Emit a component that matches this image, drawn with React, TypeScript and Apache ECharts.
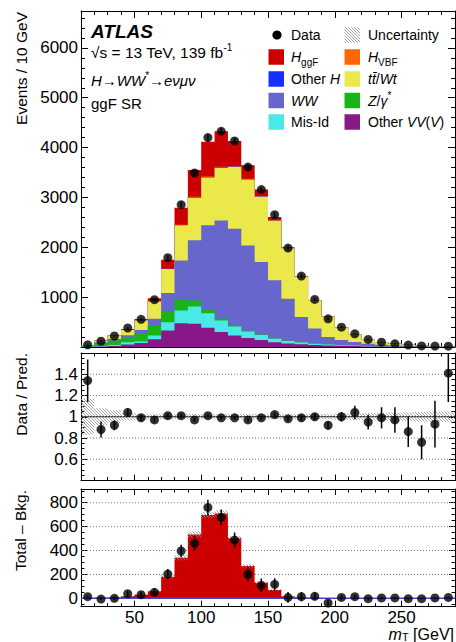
import React, { useEffect, useRef } from "react";
import * as echarts from "echarts";

const FONT = "'Liberation Sans', Arial, Helvetica, sans-serif";

// ---- data ----
const binEdges = [10, 20, 30, 40, 50, 60, 70, 80, 90, 100, 110, 120, 130, 140, 150, 160, 170, 180, 190, 200, 210, 220, 230, 240, 250, 260, 270, 280, 290];

const dataCounts = [43, 116, 221, 381, 555, 950, 1791, 2855, 3490, 4200, 4327, 4133, 3610, 3157, 2655, 1984, 1422, 954, 566, 398, 265, 151, 96, 64, 38, 22, 18, 17];
const dataErr = [7, 11, 15, 20, 24, 31, 42, 53, 59, 65, 66, 64, 60, 56, 52, 45, 38, 31, 24, 20, 16, 12, 10, 8, 6, 5, 4, 4];

const otherVV = [2, 8, 18, 50, 80, 155, 330, 478, 465, 386, 300, 230, 180, 140, 95, 70, 55, 40, 30, 25, 18, 12, 8, 6, 4, 3, 2, 1];
const misId = [3, 10, 20, 45, 30, 75, 165, 255, 348, 293, 230, 180, 130, 100, 70, 50, 35, 25, 20, 15, 10, 7, 5, 3, 2, 1, 1, 1];
const zGamma = [15, 60, 85, 100, 160, 190, 220, 221, 121, 68, 40, 25, 15, 10, 5, 5, 3, 2, 2, 1, 1, 0, 0, 0, 0, 0, 0, 0];
const wwBkg = [4, 18, 35, 40, 70, 145, 370, 783, 1205, 1693, 1970, 1938, 1713, 1453, 1167, 845, 508, 302, 150, 100, 70, 48, 32, 22, 15, 10, 7, 4];
const topBkg = [6, 30, 72, 108, 190, 350, 480, 703, 857, 958, 1051, 1238, 1323, 1313, 1195, 1010, 809, 570, 410, 252, 158, 89, 52, 35, 23, 15, 9, 6];
const otherH = [0, 0, 0, 1, 1, 2, 3, 6, 8, 10, 11, 9, 7, 5, 3, 2, 1, 1, 0, 0, 0, 0, 0, 0, 0, 0, 0, 0];
const hVBF = [0, 0, 0, 1, 1, 2, 3, 7, 10, 14, 15, 12, 8, 5, 3, 2, 2, 1, 1, 0, 0, 0, 0, 0, 0, 0, 0, 0];
const hGGF = [2, 4, 8, 18, 30, 60, 181, 340, 535, 697, 711, 502, 270, 131, 69, 18, 8, 4, 2, 1, 1, 0, 0, 0, 0, 0, 0, 0];

const ratioVals = [1.34, 0.88, 0.92, 1.04, 0.99, 0.97, 1.01, 1.01, 0.97, 1.01, 0.99, 0.99, 0.97, 0.99, 1.02, 0.98, 0.99, 1.0, 0.92, 1.0, 1.04, 0.95, 0.99, 0.97, 0.86, 0.76, 0.93, 1.41];
const ratioErr = [0.2, 0.075, 0.047, 0.04, 0.03, 0.025, 0.02, 0.018, 0.017, 0.015, 0.015, 0.015, 0.016, 0.018, 0.02, 0.022, 0.027, 0.032, 0.04, 0.045, 0.063, 0.07, 0.1, 0.12, 0.145, 0.16, 0.22, 0.27];
const ratioBand = [0.17, 0.08, 0.06, 0.035, 0.03, 0.025, 0.025, 0.025, 0.025, 0.025, 0.025, 0.025, 0.025, 0.025, 0.025, 0.025, 0.025, 0.025, 0.025, 0.03, 0.03, 0.035, 0.035, 0.04, 0.04, 0.045, 0.05, 0.05];

const diffVals = [14, -6, 0, 39, 31, 50, 203, 396, 460, 761, 678, 488, 200, 109, 117, 8, 14, 17, -39, 8, 14, -3, 3, 3, -3, -3, 3, 8];
const sigBand = [1, 1, 1, 2, 3, 5, 15, 22, 25, 25, 25, 20, 15, 10, 6, 3, 2, 1, 1, 1, 1, 0, 0, 0, 0, 0, 0, 0];

// ---- tick labels ----
const xMajor = [50, 100, 150, 200, 250];
const xMinor = [20, 30, 40, 60, 70, 80, 90, 110, 120, 130, 140, 160, 170, 180, 190, 210, 220, 230, 240, 260, 270, 280];
const yTopMajor = [1000, 2000, 3000, 4000, 5000, 6000];
const yTopMinor = [200, 400, 600, 800, 1200, 1400, 1600, 1800, 2200, 2400, 2600, 2800, 3200, 3400, 3600, 3800, 4200, 4400, 4600, 4800, 5200, 5400, 5600, 5800, 6200, 6400, 6600];
const ratioMajor = [0.6, 0.8, 1, 1.2, 1.4];
const ratioMinor = [0.45, 0.5, 0.55, 0.65, 0.7, 0.75, 0.85, 0.9, 0.95, 1.05, 1.1, 1.15, 1.25, 1.3, 1.35, 1.45, 1.5, 1.55];
const ratioGrid = [0.6, 0.8, 1.2, 1.4];
const diffMajor = [0, 200, 400, 600, 800];
const diffMinor = [-50, 50, 100, 150, 250, 300, 350, 450, 500, 550, 650, 700, 750, 850, 900];
const diffGrid = [200, 400, 600, 800];

const layers = [
  { name: "Other VV(V)", color: "#881888", vals: otherVV },
  { name: "Mis-Id", color: "#4be8e8", vals: misId },
  { name: "Z/γ*", color: "#18b418", vals: zGamma },
  { name: "WW", color: "#6766cc", vals: wwBkg },
  { name: "tt/Wt", color: "#ebe84b", vals: topBkg },
  { name: "Other H", color: "#1430ff", vals: otherH },
  { name: "H_VBF", color: "#ff6600", vals: hVBF },
  { name: "H_ggF", color: "#cc0000", vals: hGGF },
];

const NB = binEdges.length - 1;
const centers = binEdges.slice(0, -1).map((e, k) => (e + binEdges[k + 1]) / 2);
const XMIN = binEdges[0];
const XMAX = binEdges[NB];
const TICK_FS = 17;

function hatchLines(x0: number, y0: number, x1: number, y1: number, s: number, color: string, lw: number) {
  const out: any[] = [];
  const cStart = Math.ceil((x0 - y1) / s) * s;
  for (let c = cStart; c <= x1 - y0; c += s) {
    const lo = Math.max(x0, y0 + c);
    const hi = Math.min(x1, y1 + c);
    if (hi > lo) {
      out.push({ type: "line", shape: { x1: lo, y1: lo - c, x2: hi, y2: hi - c }, style: { stroke: color, lineWidth: lw } });
    }
  }
  return out;
}

function xAxes(g: number, labels: boolean, maj: number, min: number) {
  const base: any = { type: "value", gridIndex: g, min: XMIN, max: XMAX, splitLine: { show: false } };
  const line = { show: true, onZero: false, lineStyle: { color: "#000", width: 1 } };
  const noLine = { show: false, onZero: false };
  const tk = (vals: number[], len: number) => ({ show: true, inside: true, length: len, customValues: vals, lineStyle: { color: "#000", width: 1 } });
  return [
    { ...base, position: "bottom", axisLine: line, axisTick: tk(xMajor, maj),
      axisLabel: labels ? { show: true, customValues: xMajor, color: "#000", fontSize: TICK_FS, fontFamily: FONT, margin: 2 } : { show: false } },
    { ...base, position: "bottom", axisLine: noLine, axisTick: tk(xMinor, min), axisLabel: { show: false } },
    { ...base, position: "top", axisLine: line, axisTick: tk(xMajor, maj), axisLabel: { show: false } },
    { ...base, position: "top", axisLine: noLine, axisTick: tk(xMinor, min), axisLabel: { show: false } },
  ];
}

function yAxes(g: number, ymin: number, ymax: number, major: number[], minor: number[], maj: number, mn: number) {
  const base: any = { type: "value", gridIndex: g, min: ymin, max: ymax, splitLine: { show: false } };
  const line = { show: true, onZero: false, lineStyle: { color: "#000", width: 1 } };
  const noLine = { show: false, onZero: false };
  const tk = (vals: number[], len: number) => ({ show: true, inside: true, length: len, customValues: vals, lineStyle: { color: "#000", width: 1 } });
  return [
    { ...base, position: "left", axisLine: line, axisTick: tk(major, maj),
      axisLabel: { show: true, customValues: major, color: "#000", fontSize: TICK_FS, fontFamily: FONT, margin: 3,
        formatter: (v: number) => String(parseFloat(v.toFixed(2))) } },
    { ...base, position: "left", axisLine: noLine, axisTick: tk(minor, mn), axisLabel: { show: false } },
    { ...base, position: "right", axisLine: line, axisTick: tk(major, maj), axisLabel: { show: false } },
    { ...base, position: "right", axisLine: noLine, axisTick: tk(minor, mn), axisLabel: { show: false } },
  ];
}

function stepFill(g: number, tops: number[], color: string, z: number) {
  return {
    type: "custom", xAxisIndex: 4 * g, yAxisIndex: 4 * g, clip: true, silent: true, z,
    data: [[XMIN, 0]],
    renderItem: (_p: any, api: any) => {
      const pts: number[][] = [];
      for (let k = 0; k < NB; k++) {
        pts.push(api.coord([binEdges[k], tops[k]]));
        pts.push(api.coord([binEdges[k + 1], tops[k]]));
      }
      pts.push(api.coord([XMAX, 0]));
      pts.push(api.coord([XMIN, 0]));
      return { type: "polygon", shape: { points: pts }, style: { fill: color, stroke: null } };
    },
  };
}

function bandSeries(g: number, mids: number[], half: number[], z: number) {
  return {
    type: "custom", xAxisIndex: 4 * g, yAxisIndex: 4 * g, clip: true, silent: true, z,
    data: mids.map((m, k) => [binEdges[k], m, binEdges[k + 1], half[k]]),
    renderItem: (_p: any, api: any) => {
      const lo = api.value(0), c = api.value(1), hi = api.value(2), hw = api.value(3);
      if (hw <= 0) return { type: "group", children: [] };
      const a = api.coord([lo, c + hw]);
      const b = api.coord([hi, c - hw]);
      return { type: "group", children: hatchLines(a[0], a[1], b[0], b[1], 3, "#8a8a8a", 0.8) };
    },
  };
}

function errSeries(g: number, vals: number[], errs: number[], z: number) {
  return {
    type: "custom", xAxisIndex: 4 * g, yAxisIndex: 4 * g, clip: true, silent: true, z,
    data: vals.map((v, k) => [centers[k], v, errs[k]]),
    renderItem: (_p: any, api: any) => {
      const x = api.value(0), y = api.value(1), e = api.value(2);
      const a = api.coord([x, y - e]);
      const b = api.coord([x, y + e]);
      return { type: "line", shape: { x1: a[0], y1: a[1], x2: b[0], y2: b[1] }, style: { stroke: "#000", lineWidth: 1.5 } };
    },
  };
}

function hLines(g: number, vals: number[], style: any, z: number) {
  return {
    type: "custom", xAxisIndex: 4 * g, yAxisIndex: 4 * g, clip: true, silent: true, z,
    data: vals.map((v) => [XMIN, v]),
    renderItem: (_p: any, api: any) => {
      const v = api.value(1);
      const a = api.coord([XMIN, v]);
      const b = api.coord([XMAX, v]);
      return { type: "line", shape: { x1: a[0], y1: a[1], x2: b[0], y2: b[1] }, style };
    },
  };
}

function points(g: number, vals: number[], size: number, z: number) {
  return {
    type: "scatter", xAxisIndex: 4 * g, yAxisIndex: 4 * g, symbol: "circle", symbolSize: size, z, silent: true,
    itemStyle: { color: "#000" },
    data: vals.map((v, k) => [centers[k], v]),
  };
}

function buildOption() {
  const cum: number[][] = [];
  layers.forEach((l, i) => {
    cum.push(l.vals.map((v, k) => v + (i > 0 ? cum[i - 1][k] : 0)));
  });
  const stackSeries: any[] = [];
  for (let i = layers.length - 1; i >= 0; i--) {
    stackSeries.push(stepFill(0, cum[i], layers[i].color, 2));
  }

  const rich = {
    i: { fontStyle: "italic", fontSize: 14, fontFamily: FONT, lineHeight: 20 },
    sub: { fontSize: 10, fontFamily: FONT, lineHeight: 10, verticalAlign: "bottom" },
    sup: { fontSize: 10, fontFamily: FONT, lineHeight: 10, verticalAlign: "top" },
  };
  const rich15 = {
    i: { fontStyle: "italic", fontSize: 15, fontFamily: FONT, lineHeight: 20 },
    sup: { fontSize: 10, fontFamily: FONT, lineHeight: 10, verticalAlign: "top" },
  };
  const txt = (x: number, y: number, text: string, extra: any = {}) => ({
    type: "text", x, y, silent: true,
    style: { text, fill: "#000", fontSize: 14, fontFamily: FONT, lineHeight: 20, align: "left", verticalAlign: "middle", rich, ...extra },
  });

  const rows = [35, 57, 79, 100.5, 122];
  const c1b = 268.5, c2b = 344.5, bs = 15.5, c1t = 291, c2t = 368;
  const leftEntries = [
    { label: "{i|H}{sub|ggF}", color: layers[7].color },
    { label: "Other {i|H}", color: layers[5].color },
    { label: "{i|WW}", color: layers[3].color },
    { label: "Mis-Id", color: layers[1].color },
  ];
  const rightEntries = [
    { label: "{i|H}{sub|VBF}", color: layers[6].color },
    { label: "{i|tt̄}/{i|Wt}", color: layers[4].color },
    { label: "{i|Z}/{i|γ}{sup|*}", color: layers[2].color },
    { label: "Other {i|VV}({i|V})", color: layers[0].color },
  ];
  const legend: any[] = [];
  legend.push({ type: "circle", shape: { cx: 277, cy: rows[0], r: 4.6 }, style: { fill: "#000" }, silent: true });
  legend.push(txt(c1t, rows[0], "Data"));
  legend.push({ type: "group", silent: true, children: hatchLines(c2b, rows[0] - bs / 2, c2b + bs, rows[0] + bs / 2, 3, "#8a8a8a", 0.8) });
  legend.push(txt(c2t, rows[0], "Uncertainty"));
  leftEntries.forEach((e, j) => {
    const y = rows[j + 1];
    legend.push({ type: "rect", shape: { x: c1b, y: y - bs / 2, width: bs, height: bs }, style: { fill: e.color }, silent: true });
    legend.push(txt(c1t, y, e.label));
  });
  rightEntries.forEach((e, j) => {
    const y = rows[j + 1];
    legend.push({ type: "rect", shape: { x: c2b, y: y - bs / 2, width: bs, height: bs }, style: { fill: e.color }, silent: true });
    legend.push(txt(c2t, y, e.label));
  });

  const labels: any[] = [
    { type: "text", x: 91, y: 31, silent: true, style: { text: "ATLAS", fill: "#000", fontSize: 19, fontWeight: "bold", fontStyle: "italic", fontFamily: FONT, verticalAlign: "middle" } },
    txt(91, 52, "√s = 13 TeV, 139 fb{sup|-1}", { fontSize: 15.5, rich: rich15 }),
    txt(91, 80, "{i|H→WW}{sup|*}{i|→eνμν}", { fontSize: 15, rich: rich15 }),
    txt(91, 103.5, "ggF SR", { fontSize: 15 }),
    { type: "text", x: 21, y: 12, rotation: Math.PI / 2, silent: true,
      style: { text: "Events / 10 GeV", fill: "#000", fontSize: 15.5, fontFamily: FONT, align: "right", verticalAlign: "middle" } },
    { type: "text", x: 21, y: 353, rotation: Math.PI / 2, silent: true,
      style: { text: "Data / Pred.", fill: "#000", fontSize: 15.5, fontFamily: FONT, align: "right", verticalAlign: "middle" } },
    { type: "text", x: 20, y: 490, rotation: Math.PI / 2, silent: true,
      style: { text: "Total – Bkg.", fill: "#000", fontSize: 15.5, fontFamily: FONT, align: "right", verticalAlign: "middle" } },
    { type: "text", x: 454, y: 634, silent: true,
      style: { text: "{i|m}{sub|T} [GeV]", fill: "#000", fontSize: 16, fontFamily: FONT, lineHeight: 16, align: "right", verticalAlign: "middle",
        rich: { i: { fontStyle: "italic", fontSize: 16, fontFamily: FONT, lineHeight: 16 }, sub: { fontSize: 11, fontFamily: FONT, lineHeight: 9, verticalAlign: "bottom" } } } },
  ];

  return {
    animation: false,
    backgroundColor: "#ffffff",
    grid: [
      { left: 81, right: 1, top: 11, height: 336 },
      { left: 81, right: 1, top: 353, height: 127.5 },
      { left: 81, right: 1, top: 489, height: 117.7 },
    ],
    xAxis: [...xAxes(0, false, 7, 4), ...xAxes(1, false, 6, 3.5), ...xAxes(2, true, 6, 3.5)],
    yAxis: [
      ...yAxes(0, 0, 6740, yTopMajor, yTopMinor, 7, 4),
      ...yAxes(1, 0.4, 1.6, ratioMajor, ratioMinor, 6, 3.5),
      ...yAxes(2, -70, 915, diffMajor, diffMinor, 6, 3.5),
    ],
    series: [
      ...stackSeries,
      errSeries(0, dataCounts, dataErr, 5),
      points(0, dataCounts, 9, 6),

      hLines(1, ratioGrid, { stroke: "#777", lineWidth: 1, lineDash: [1, 2] }, 1),
      hLines(1, [1], { stroke: "#000", lineWidth: 1 }, 2),
      bandSeries(1, ratioVals.map(() => 1), ratioBand, 3),
      errSeries(1, ratioVals, ratioErr, 5),
      points(1, ratioVals, 9, 6),

      hLines(2, diffGrid, { stroke: "#777", lineWidth: 1, lineDash: [1, 2] }, 1),
      stepFill(2, hGGF, layers[7].color, 2),
      bandSeries(2, hGGF, sigBand, 3),
      hLines(2, [0], { stroke: "#4444dd", lineWidth: 1.5 }, 4),
      errSeries(2, diffVals, dataErr, 5),
      points(2, diffVals, 9, 6),
    ],
    graphic: { elements: [...labels, ...legend] },
  };
}

export default function App() {
  const ref = useRef<HTMLDivElement>(null);
  useEffect(() => {
    if (!ref.current) return;
    const chart = echarts.init(ref.current, null, { renderer: "svg" });
    chart.setOption(buildOption() as any);
    return () => chart.dispose();
  }, []);
  return <div ref={ref} style={{ position: "fixed", left: 0, top: 0, width: 456, height: 642, background: "#fff" }} />;
}
